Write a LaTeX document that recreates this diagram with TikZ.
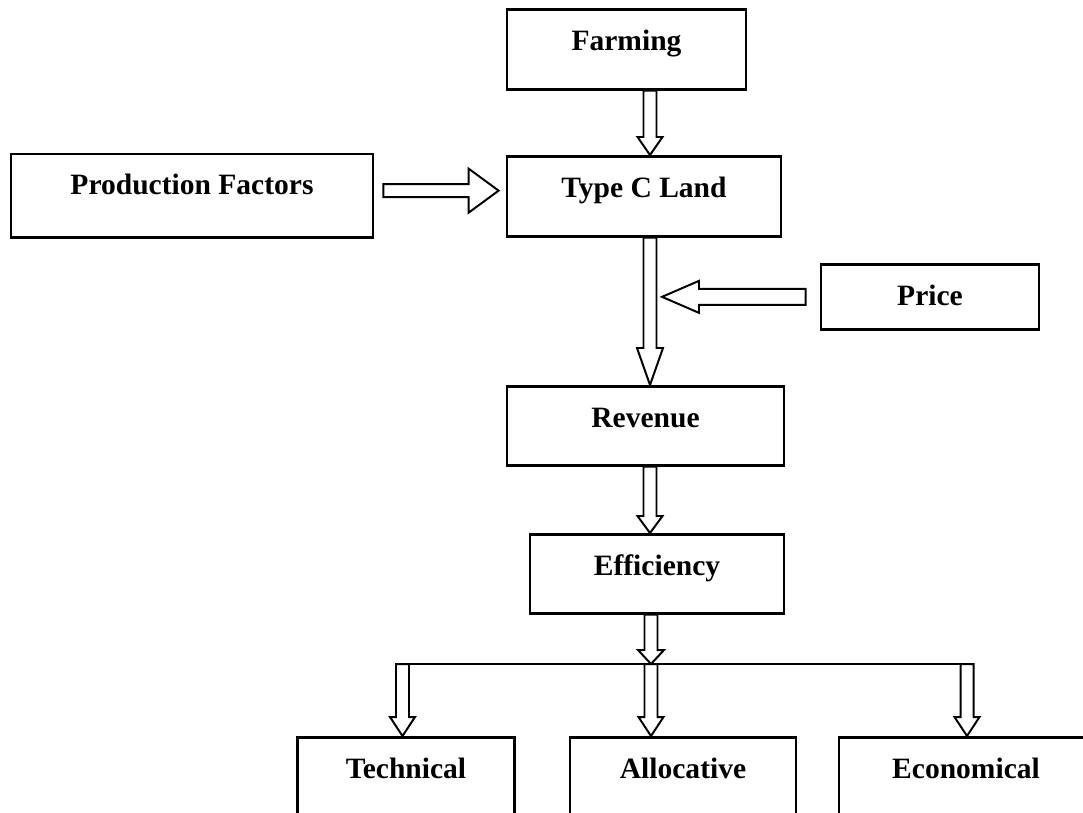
\documentclass[tikz,border=0pt]{standalone}
\usepackage{fontspec}
\setmainfont{Liberation Serif}
\usepackage{tikz}
\usetikzlibrary{calc}
\tikzset{>=latex}

\newlength{\pxu}
\setlength{\pxu}{0.025cm}
% hollow block arrows: head length, head half width (and shaft) in picture pixels
\newcommand{\varrow}[4]{%
  \draw[blockline] let \p1=(#1), \p2=(#2) in
    (\x1-6.5*\pxu,\y1) -- (\x1-6.5*\pxu,\y2+#3*\pxu) -- (\x1-#4*\pxu,\y2+#3*\pxu) -- (\x1,\y2)
    -- (\x1+#4*\pxu,\y2+#3*\pxu) -- (\x1+6.5*\pxu,\y2+#3*\pxu) -- (\x1+6.5*\pxu,\y1) -- cycle;}
\newcommand{\harrow}[6]{%
  \draw[blockline] let \p1=(#1), \p2=(#2), \n1={#6*#3*\pxu} in
    (\x1,\y1-#5*\pxu) -- (\x2-\n1,\y1-#5*\pxu) -- (\x2-\n1,\y1-#4*\pxu) -- (\x2,\y1)
    -- (\x2-\n1,\y1+#4*\pxu) -- (\x2-\n1,\y1+#5*\pxu) -- (\x1,\y1+#5*\pxu) -- cycle;}

\begin{document}
\begin{tikzpicture}[x=0.025cm,y=-0.025cm]
      \tikzstyle{box}=[draw,line width=1.9pt,anchor=north,inner xsep=0pt,inner ysep=0pt,text height=1.02cm,font=\bfseries\fontsize{21}{25}\selectfont]
      \tikzstyle{blockline}=[line width=1.4pt,fill=white,line join=miter]
      \clip (0,0) rectangle (1083,812);
      %%% boxes
      \node (farming) at (626.5,8) [box,minimum width=5.975cm,text depth=0.98cm] {Farming};
      \node (typec) at (644,155) [box,minimum width=6.85cm,text depth=0.98cm] {Type C Land};
      \node (prod) at (192,152.5) [box,minimum width=9.05cm,text depth=1.07cm] {Production Factors};
      \node (price) at (930,263) [box,minimum width=5.45cm,text depth=0.605cm] {Price};
      \node (revenue) at (645.5,385) [box,minimum width=6.925cm,text depth=0.955cm] {Revenue};
      \node (efficiency) at (657,533) [box,minimum width=6.35cm,text depth=0.955cm] {Efficiency};
      \node (technical) at (406,736) [box,minimum width=5.41cm,text depth=1.5cm] {Technical};
      \node (allocative) at (683,736) [box,minimum width=5.65cm,text depth=1.5cm] {Allocative};
      \node (economical) at (966,736) [box,minimum width=6.35cm,text depth=1.5cm] {Economical};
      %%% main line
      \coordinate (spine) at (650,0);
      \varrow{spine |- farming.south}{spine |- typec.north}{18}{12.5}
      \harrow{$(prod.east)+(9,-5)$}{$(typec.west)+(-7,0)$}{30}{22}{6.5}{1}
      \varrow{spine |- typec.south}{spine |- revenue.north}{37}{13}
      \harrow{$(price.west)+(-14,0)$}{$(spine |- price.west)+(12,0)$}{37}{16}{8}{-1}
      \varrow{spine |- revenue.south}{spine |- efficiency.north}{17}{12.5}
      %%% split
      \coordinate (split) at (651,664);
      \coordinate (splitl) at (402.5,664);
      \coordinate (splitr) at (967,664);
      \varrow{split |- efficiency.south}{split}{14}{13}
      \draw[line width=1.4pt] ($(splitl)+(-6.5,0)$) -- ($(splitr)+(6.5,0)$);
      \varrow{splitl}{splitl |- technical.north}{19}{12.5}
      \varrow{split}{split |- allocative.north}{19}{12.5}
      \varrow{splitr}{splitr |- economical.north}{19}{12.5}
\end{tikzpicture}
\end{document}
